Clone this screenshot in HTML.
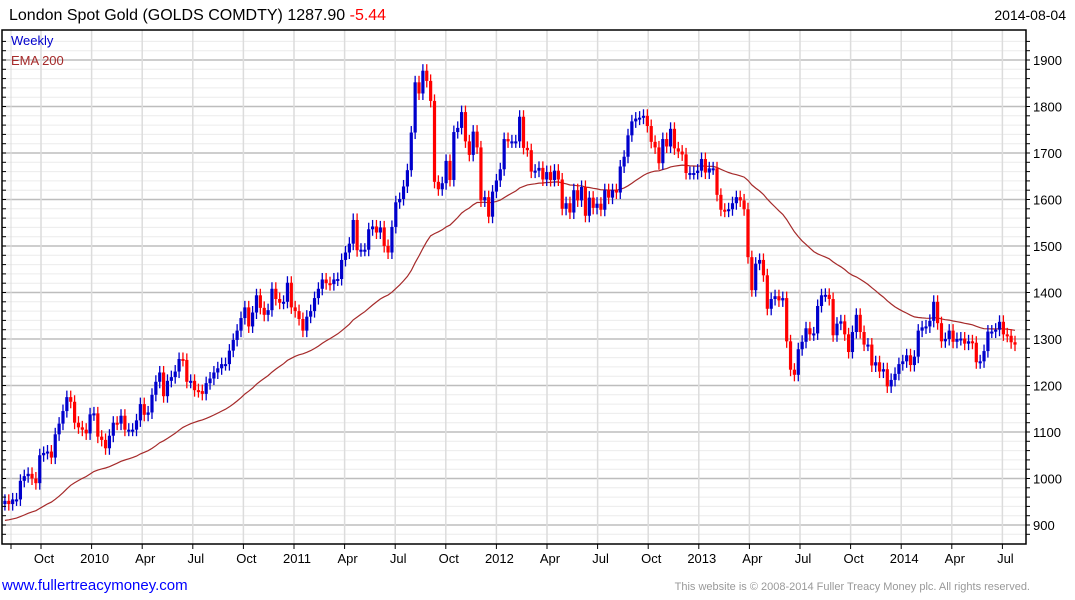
<!DOCTYPE html>
<html><head><meta charset="utf-8"><style>
body{margin:0;background:#fff;font-family:"Liberation Sans",sans-serif;}
svg{display:block}
</style></head><body>
<svg id="c" width="1075" height="600" xmlns="http://www.w3.org/2000/svg">
<text x="9" y="20" font-size="16" fill="#000">London Spot Gold (GOLDS COMDTY) 1287.90 <tspan fill="#ff0000">-5.44</tspan></text>
<text x="1066" y="20" font-size="14" text-anchor="end" fill="#000">2014-08-04</text>
<g id="grid"></g>
<g id="ema"></g>
<g id="candles"></g>
<rect x="2" y="30" width="1024" height="514" fill="none" stroke="#000" stroke-width="1.5"/>
<text x="11" y="45" font-size="13" fill="#0000cc">Weekly</text>
<text x="11" y="65" font-size="13" fill="#a52a2a">EMA 200</text>
<g id="axes"></g>
<text x="2" y="590" font-size="15" fill="#0000ff">www.fullertreacymoney.com</text>
<text x="1030" y="590" font-size="11" fill="#999" text-anchor="end">This website is © 2008-2014 Fuller Treacy Money plc. All rights reserved.</text>
</svg>
<script>
const closes=[952,945,955,955,995,1005,1010,1000,990,1050,1055,1058,1045,1095,1118,1145,1175,1165,1120,1110,1105,1097,
1138,1140,1090,1083,1065,1092,1120,1118,1135,1105,1105,1105,1125,1160,1137,1142,1180,1208,1228,1177,1210,1218,1230,1257,1255,1208,1210,1190,1188,1182,1205,1215,1228,1237,1246,1246,1275,1298,1318,1345,1368,1327,1357,1394,1367,1352,1362,1408,1386,1378,1380,1421,
1368,1360,1343,1318,1348,1360,1388,1408,1428,1420,1418,1428,1429,1470,1486,1505,1556,1491,1492,1492,1536,1542,1529,1540,1500,1486,1541,1594,1601,1628,1663,1744,1852,1828,1877,1855,1812,1638,1622,1635,1683,1642,1745,1754,1788,1725,1696,1746,1712,1598,1605,1563,
1617,1641,1665,1730,1725,1725,1725,1778,1711,1706,1660,1662,1668,1643,1659,1642,1662,1643,1580,1592,1572,1620,1598,1627,1565,1604,1582,1591,1578,1620,1604,1620,1615,1671,1692,1738,1768,1774,1776,1780,1758,1724,1712,1678,1730,1714,1752,1710,1703,1697,1657,1657,
1657,1662,1687,1658,1667,1667,1610,1578,1576,1579,1592,1605,1598,1579,1476,1405,1462,1470,1437,1365,1386,1392,1383,1388,1295,1234,1223,1278,1294,1323,1310,1312,1371,1394,1395,1386,1308,1333,1338,1310,1272,1315,1352,1315,1288,1288,1243,1250,1230,1235,1198,1212,1225,
1246,1252,1265,1244,1262,1318,1325,1327,1339,1380,1334,1295,1300,1318,1294,1300,1301,1290,1295,1292,1250,1252,1274,1316,1316,1320,1337,1310,1307,1293,1288];
const firstOpen=945;
const yTicks=[900,1000,1100,1200,1300,1400,1500,1600,1700,1800,1900];
const xLabels=["Oct","2010","Apr","Jul","Oct","2011","Apr","Jul","Oct","2012","Apr","Jul","Oct","2013","Apr","Jul","Oct","2014","Apr","Jul"];
const emaSeed=908;

const NS="http://www.w3.org/2000/svg";
const L=2,R=1026,T=30,B=544;
function y(v){return 525-(v-900)*0.465;}
const step=3.87, xEnd=1015;
function x(i){return xEnd-(closes.length-1-i)*step;}
function xq(k){return 41+k*50.6;}
function mk(tag,attrs,parent){const e=document.createElementNS(NS,tag);for(const k in attrs)e.setAttribute(k,attrs[k]);parent.appendChild(e);return e;}
const grid=document.getElementById('grid'),axes=document.getElementById('axes');
for(let v=880;v<=1940;v+=20){const yy=y(v);if(yy<T||yy>B)continue;
 const major=v%100===0;
 const ln=mk('line',{x1:L,x2:R,y1:yy,y2:yy,stroke:major?'#bdbdbd':'#ececec','stroke-width':major?1.5:1},grid);
 
 
 const t1=mk('line',{x1:L,x2:L+4,y1:yy,y2:yy,stroke:'#000'},axes);
 
 
 const t2=mk('line',{x1:R,x2:R+4,y1:yy,y2:yy,stroke:'#000'},axes);
 
 
}
yTicks.forEach(v=>{const t=mk('text',{x:1033,y:y(v)+5,'font-size':13,fill:'#000'},axes);t.textContent=v;
 
 });
const vl=mk('line',{x1:11,x2:11,y1:T,y2:B,stroke:'#dcdcdc'},grid);


mk('line',{x1:11,x2:11,y1:B,y2:B+5,stroke:'#000'},axes);
xLabels.forEach((s,k)=>{const xx=xq(k);
 const g=mk('line',{x1:xx,x2:xx,y1:T,y2:B,stroke:'#dcdcdc','stroke-width':1.5},grid);
 
 
 const tk=mk('line',{x1:xx,x2:xx,y1:B,y2:B+5,stroke:'#000'},axes);
 
 
 const t=mk('text',{x:xx+3,y:563,'font-size':13,'text-anchor':'middle',fill:'#000'},axes);t.textContent=s;
 
 });
const cg=document.getElementById('candles');
let prev=firstOpen;
closes.forEach((c,i)=>{const o=prev;prev=c;
 const col=c>=o?'#0000cc':'#ff0000';const xx=x(i);
 const hi=Math.max(o,c)+14,lo=Math.min(o,c)-14;
 const w=mk('line',{x1:xx,x2:xx,y1:y(hi),y2:y(lo),stroke:col,'stroke-width':1.3},cg);
 
 
 const top=y(Math.max(o,c)),h=Math.max(2,y(Math.min(o,c))-top);
 const r=mk('rect',{x:xx-1.6,y:top,width:3.2,height:h,fill:col},cg);
 
 
});
let e=emaSeed,pts=[];const a=2/49;
closes.forEach((c,i)=>{e=e+a*(c-e);pts.push(x(i).toFixed(1)+','+y(e).toFixed(1));});
const pl=mk('polyline',{points:pts.join(' '),fill:'none',stroke:'#a52a2a','stroke-width':1.2},document.getElementById('ema'));


</script>
</body></html>
